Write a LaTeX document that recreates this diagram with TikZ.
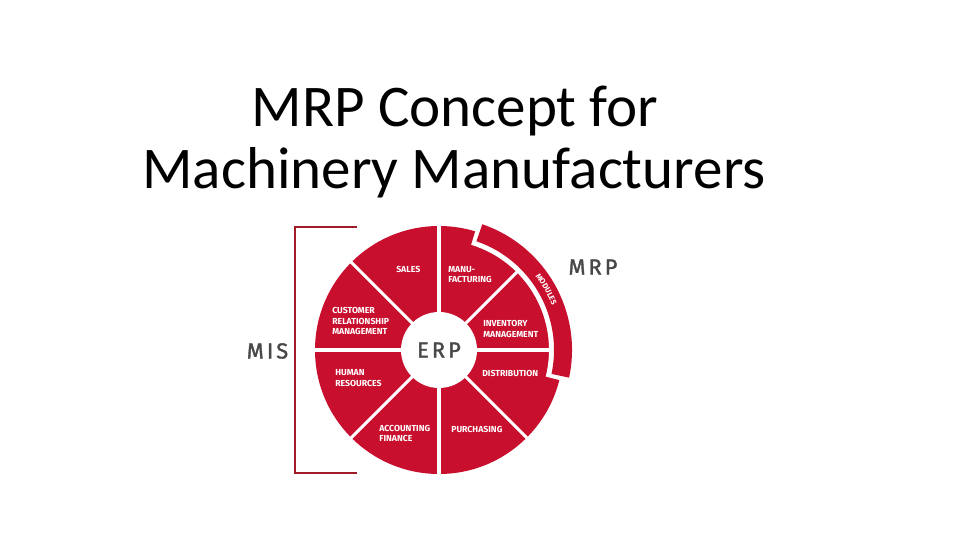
\documentclass[tikz,border=0pt]{standalone}
\usepackage{fontspec}
\setmainfont{Carlito}
\newfontfamily\dinfont[LetterSpace=14,FakeBold=1.6]{Fira Sans}
\newfontfamily\tagfont{Fira Sans}
\usetikzlibrary{decorations.text}
\definecolor{erpred}{RGB}{200,16,46}
\definecolor{bracketred}{RGB}{160,28,38}
\definecolor{erpgray}{RGB}{72,72,74}

\begin{document}
\begin{tikzpicture}[x=0.025cm,y=0.025cm,
  module/.style={font=\tagfont\bfseries\fontsize{6.2}{7.2}\selectfont, text=white, align=left, anchor=west, inner sep=0pt},
  system/.style={font=\dinfont\fontsize{15.5}{17}\selectfont, text=erpgray, inner sep=0pt},
  title/.style={font=\fontsize{42}{46}\selectfont, anchor=base, inner sep=0pt},
  divider/.style={white, line width=2.2pt},
  bracket/.style={bracketred, line width=1.8pt}]
\useasboundingbox (0,0) rectangle (960,540);
% title
\node[title] (title1) at (455,413) {MRP Concept for};
\node[title] (title2) at (454,351) {Machinery Manufacturers};
% wheel
\coordinate (C) at (439,190);
\fill[erpred] (C) circle[radius=124];
\foreach \a in {0,45,...,315}
  \draw[divider] (C) -- ++(\a:128);
% MRP modules ring
\fill[white] ([shift={(-14:110)}]C) arc[start angle=-14,end angle=73,radius=110]
  -- ++(73:32) arc[start angle=73,end angle=-14,radius=142] -- cycle;
\fill[erpred] ([shift={(-12:115)}]C) arc[start angle=-12,end angle=71,radius=115]
  -- ++(71:18) arc[start angle=71,end angle=-12,radius=133] -- cycle;
\path[decorate,decoration={text along path,text align=center,
  text={|\tagfont\bfseries\fontsize{5.5}{6}\selectfont\color{white}|MODULES}}]
  ([shift={(42:121.5)}]C) arc[start angle=42,end angle=17,radius=121.5];
\fill[white] (C) circle[radius=38];
\node[system] (erp) at (C) {ERP};
% modules
\node[module] (sales) at (396,271) {SALES};
\node[module] (manufacturing) at (448,265.5) {MANU-\\FACTURING};
\node[module] (crm) at (332,219) {CUSTOMER\\RELATIONSHIP\\MANAGEMENT};
\node[module] (inventory) at (483,211) {INVENTORY\\MANAGEMENT};
\node[module] (hr) at (335,162) {HUMAN\\RESOURCES};
\node[module] (distribution) at (482,167) {DISTRIBUTION};
\node[module] (accounting) at (379,106.5) {ACCOUNTING\\FINANCE};
\node[module] (purchasing) at (451,111) {PURCHASING};
% MIS bracket and labels
\coordinate (misTop) at (357,313);
\coordinate (misBottom) at (357,67);
\draw[bracket] (misTop) -- ++(-62,0) |- (misBottom);
\node[system] (mis) at (267.5,189) {MIS};
\node[system] (mrp) at (593,273) {MRP};
\end{tikzpicture}
\end{document}
